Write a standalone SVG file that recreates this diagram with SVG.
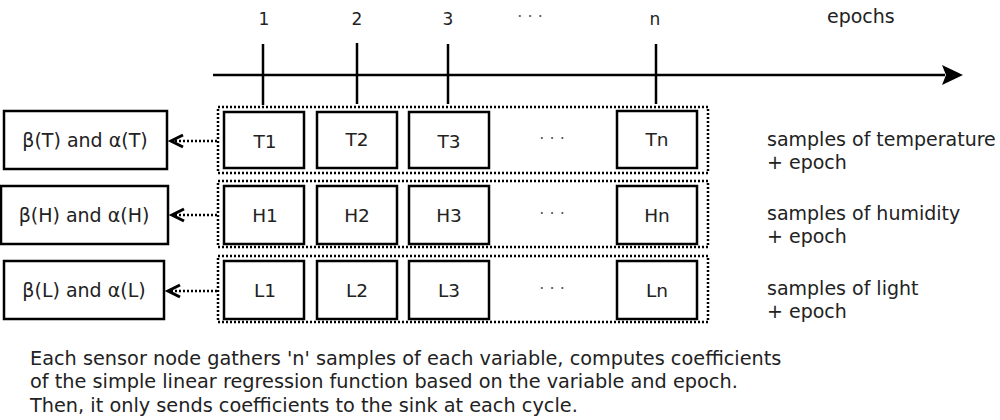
<svg xmlns="http://www.w3.org/2000/svg" width="1000" height="420" viewBox="0 0 1000 420">
<defs>
<style>
text{font-family:"DejaVu Sans","Liberation Sans",sans-serif;fill:#222;}
.lbl{font-size:18.5px;text-anchor:middle;}
.coef{font-size:19px;text-anchor:middle;}
.num{font-size:17px;text-anchor:middle;}
.side{font-size:19px;}
.note{font-size:19.3px;}
.dots{font-size:16px;text-anchor:middle;fill:#555;}
.box{fill:#fff;stroke:#000;stroke-width:2.5;}
.grp{fill:none;stroke:#000;stroke-width:2.5;stroke-dasharray:2,2;}
.tick{stroke:#000;stroke-width:2.5;}
.dash{stroke:#000;stroke-width:2.5;stroke-dasharray:2,2;fill:none;}
.chev{stroke:#000;stroke-width:3;fill:none;}
</style>
</defs>
<rect width="1000" height="420" fill="#fff"/>
<g id="timeline">
<line class="tick" x1="213" y1="75" x2="945" y2="75"/>
<polygon points="963,75 942,65 946,75 942,85" fill="#000"/>
<line class="tick" x1="263" y1="44" x2="263" y2="105"/>
<line class="tick" x1="357" y1="43" x2="357" y2="104"/>
<line class="tick" x1="448" y1="44" x2="448" y2="104"/>
<line class="tick" x1="656" y1="44" x2="656" y2="104"/>
<text class="num" x="264" y="25">1</text>
<text class="num" x="357" y="25">2</text>
<text class="num" x="448" y="25">3</text>
<text class="dots" x="530" y="22">· · ·</text>
<text class="num" x="655" y="25">n</text>
<text class="side" x="827" y="23">epochs</text>
</g>
<g id="row-T">
<rect class="grp" x="218" y="107" width="490" height="66"/>
<g id="T1"><rect class="box" x="224" y="112" width="80" height="56"/><text class="lbl" x="265" y="148">T1</text></g>
<g id="T2"><rect class="box" x="317" y="112" width="80" height="56"/><text class="lbl" x="357" y="146">T2</text></g>
<g id="T3"><rect class="box" x="409" y="112" width="80" height="56"/><text class="lbl" x="449" y="148">T3</text></g>
<text class="dots" x="552" y="144">· · ·</text>
<g id="Tn"><rect class="box" x="617" y="111" width="80" height="57"/><text class="lbl" x="657" y="146">Tn</text></g>
</g>
<g id="row-H">
<rect class="grp" x="218" y="181" width="490" height="66"/>
<g id="H1"><rect class="box" x="224" y="186" width="80" height="58"/><text class="lbl" x="265" y="222">H1</text></g>
<g id="H2"><rect class="box" x="317" y="186" width="80" height="58"/><text class="lbl" x="357" y="222">H2</text></g>
<g id="H3"><rect class="box" x="409" y="186" width="80" height="58"/><text class="lbl" x="449" y="222">H3</text></g>
<text class="dots" x="552" y="219">· · ·</text>
<g id="Hn"><rect class="box" x="617" y="186" width="80" height="58"/><text class="lbl" x="657" y="222">Hn</text></g>
</g>
<g id="row-L">
<rect class="grp" x="218" y="256" width="490" height="66"/>
<g id="L1"><rect class="box" x="224" y="261" width="80" height="58"/><text class="lbl" x="265" y="297">L1</text></g>
<g id="L2"><rect class="box" x="317" y="261" width="80" height="58"/><text class="lbl" x="357" y="297">L2</text></g>
<g id="L3"><rect class="box" x="409" y="261" width="80" height="58"/><text class="lbl" x="449" y="297">L3</text></g>
<text class="dots" x="552" y="294">· · ·</text>
<g id="Ln"><rect class="box" x="617" y="261" width="80" height="58"/><text class="lbl" x="657" y="297">Ln</text></g>
</g>
<g id="coefT"><rect class="box" x="4" y="111" width="163" height="58"/><text class="coef" x="85" y="147">β(T) and α(T)</text></g>
<g id="coefH"><rect class="box" x="1" y="186" width="167" height="58"/><text class="coef" x="84" y="222">β(H) and α(H)</text></g>
<g id="coefL"><rect class="box" x="4" y="261" width="160" height="58"/><text class="coef" x="84" y="297">β(L) and α(L)</text></g>
<g id="connectors">
<line class="dash" x1="217" y1="141" x2="173" y2="141"/>
<polyline class="chev" points="183,135 171,141 183,147"/>
<line class="dash" x1="217" y1="215" x2="174" y2="215"/>
<polyline class="chev" points="184,209 172,215 184,221"/>
<line class="dash" x1="217" y1="291" x2="170" y2="291"/>
<polyline class="chev" points="180,285 168,291 180,297"/>
</g>
<g id="annotations">
<text class="side" x="767" y="146">samples of temperature</text>
<text class="side" x="767" y="169">+ epoch</text>
<text class="side" x="767" y="220">samples of humidity</text>
<text class="side" x="767" y="243">+ epoch</text>
<text class="side" x="767" y="295">samples of light</text>
<text class="side" x="767" y="318">+ epoch</text>
<text class="note" x="30" y="365">Each sensor node gathers 'n' samples of each variable, computes coefficients</text>
<text class="note" x="30" y="388">of the simple linear regression function based on the variable and epoch.</text>
<text class="note" x="30" y="412">Then, it only sends coefficients to the sink at each cycle.</text>
</g>
</svg>
